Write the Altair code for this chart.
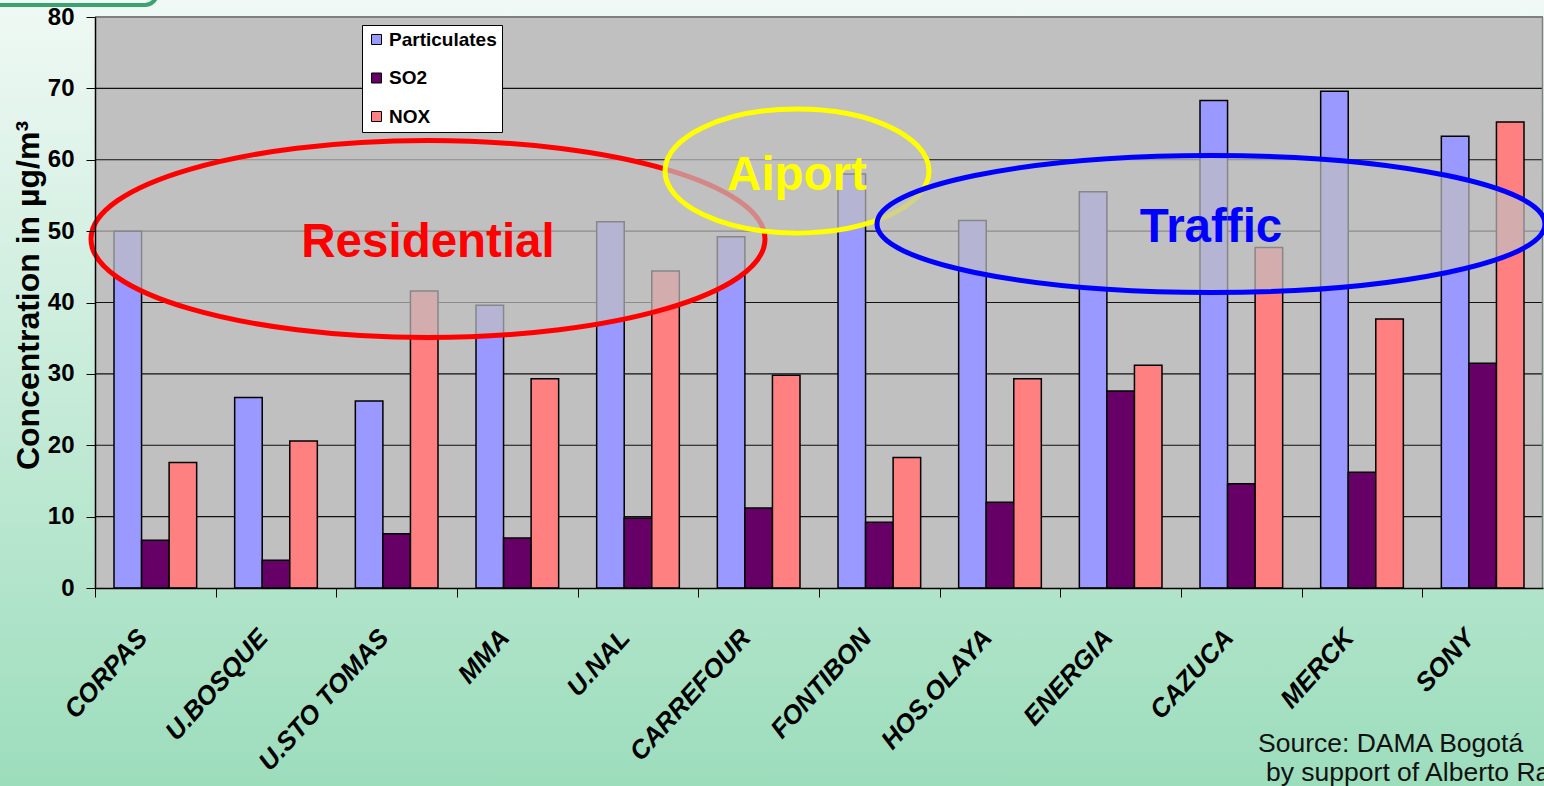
import altair as alt
import pandas as pd

# Monitoring stations and yearly mean concentrations (µg/m³)
stations = ["CORPAS", "U.BOSQUE", "U.STO TOMAS", "MMA", "U.NAL", "CARREFOUR",
            "FONTIBON", "HOS.OLAYA", "ENERGIA", "CAZUCA", "MERCK", "SONY"]
particulates = [50.0, 26.7, 26.2, 39.6, 51.3, 49.2, 58.0, 51.5, 55.5, 68.3, 69.6, 63.3]
so2 = [6.7, 3.9, 7.6, 7.0, 9.8, 11.2, 9.2, 12.0, 27.6, 14.6, 16.2, 31.5]
nox = [17.6, 20.6, 41.6, 29.3, 44.4, 29.8, 18.3, 29.3, 31.2, 47.7, 37.7, 65.3]

pollutants = ["Particulates", "SO2", "NOX"]
pollutant_colors = ["#9999FF", "#660066", "#FF8080"]

y_ticks = [0, 10, 20, 30, 40, 50, 60, 70, 80]
grid_values = [10, 20, 30, 40, 50, 60, 70]
y_title = "Concentration in µg/m³"
source_lines = ["Source: DAMA Bogotá", "by support of Alberto Ra"]

# Zone labels drawn as outlined ellipses over the plot
zone_labels = ["Residential", "Aiport", "Traffic"]
zone_colors = ["#FF0000", "#FFFF00", "#0000FF"]

rows = []
for i, st in enumerate(stations):
    for p, vals in zip(pollutants, [particulates, so2, nox]):
        rows.append({"station": st, "pollutant": p, "value": vals[i]})
df = pd.DataFrame(rows)

W, H = 1448, 571
PAD_L, PAD_T, PAD_R, PAD_B = 95, 17, 1, 198
STEP = W / len(stations)
FONT = "Liberation Sans, Arial, Helvetica, sans-serif"
one = pd.DataFrame({"k": [0]})

y_scale = alt.Scale(domain=[0, 80], nice=False, zero=True)


def ellipse_path(ratio):
    """Unit ellipse (x in [-1, 1]) built from four cubic segments."""
    k = 0.5523
    b = ratio
    return (f"M -1 0 C -1 {-k*b:.4f} {-k:.4f} {-b:.4f} 0 {-b:.4f} "
            f"C {k:.4f} {-b:.4f} 1 {-k*b:.4f} 1 0 "
            f"C 1 {k*b:.4f} {k:.4f} {b:.4f} 0 {b:.4f} "
            f"C {-k:.4f} {b:.4f} -1 {k*b:.4f} -1 0 Z")


# page background: soft green vertical gradient
background = alt.Chart(one).mark_rect(
    color=alt.Gradient(
        gradient="linear",
        stops=[alt.GradientStop(color="#F0F9F5", offset=0),
               alt.GradientStop(color="#9CDDBC", offset=1)],
        x1=0, x2=0, y1=0, y2=1,
    )
).encode(
    x=alt.value(-PAD_L), x2=alt.value(W + PAD_R),
    y=alt.value(-PAD_T), y2=alt.value(H + PAD_B),
)

# lower edge of the rounded title frame in the top-left corner
title_frame = alt.Chart(one).mark_rect(
    fillOpacity=0, stroke="#3BA272", strokeWidth=4, cornerRadius=12
).encode(
    x=alt.value(-PAD_L - 30), x2=alt.value(62),
    y=alt.value(-PAD_T - 40), y2=alt.value(-12),
)

plot_bg = alt.Chart(one).mark_rect(color="#C0C0C0").encode(
    x=alt.value(0), x2=alt.value(W), y=alt.value(0), y2=alt.value(H)
)

grid = alt.Chart(pd.DataFrame({"value": grid_values})).mark_rule(
    color="#111111", strokeWidth=1.2
).encode(y=alt.Y("value:Q", scale=y_scale, title=y_title))

top_border = alt.Chart(one).mark_rule(color="#808080", strokeWidth=2).encode(
    x=alt.value(0), x2=alt.value(W), y=alt.value(0)
)
right_border = alt.Chart(one).mark_rule(color="#808080", strokeWidth=1.5).encode(
    x=alt.value(W - 0.5), y=alt.value(0), y2=alt.value(H)
)

bars = alt.Chart(df).mark_bar(stroke="black", strokeWidth=1.5).encode(
    x=alt.X(
        "station:N", sort=stations, title=None,
        scale=alt.Scale(paddingInner=0.315, paddingOuter=0.1575),
        axis=alt.Axis(
            labelAngle=-48, labelAlign="right", labelBaseline="middle",
            labelFont=FONT, labelFontSize=26, labelFontWeight="bold",
            labelFontStyle="italic", labelColor="black", labelPadding=36,
            tickOffset=-STEP / 2, labelOffset=STEP / 2 - 13,
            tickSize=9, tickColor="black", tickWidth=1,
            domainColor="black", domainWidth=1.5, grid=False, zindex=1,
            labelOverlap=False,
        ),
    ),
    xOffset=alt.XOffset("pollutant:N", sort=pollutants,
                        scale=alt.Scale(paddingInner=0, paddingOuter=0)),
    y=alt.Y(
        "value:Q", scale=y_scale, title=y_title,
        axis=alt.Axis(
            values=y_ticks, grid=False, labelFont=FONT, labelFontSize=24,
            labelFontWeight="bold", labelColor="black", labelPadding=12,
            tickSize=9, tickColor="black", domainColor="black", domainWidth=1.5,
            titleFont=FONT, titleFontSize=32, titleFontWeight="bold",
            titleColor="black", titleAngle=270, titleAlign="center",
            titleBaseline="alphabetic", titleX=-57, titleY=278, zindex=1,
        ),
    ),
    color=alt.Color(
        "pollutant:N", sort=pollutants,
        scale=alt.Scale(domain=pollutants, range=pollutant_colors),
        legend=alt.Legend(
            title=None, orient="none", legendX=267, legendY=8,
            fillColor="white", strokeColor="black", padding=5,
            symbolType="square", symbolSize=100, symbolStrokeColor="black",
            symbolStrokeWidth=1, labelFont=FONT, labelFontSize=19,
            labelFontWeight="bold", labelColor="black", labelOffset=3,
            rowPadding=18.5,
        ),
    ),
)

# ellipse outlines (centre x, centre y, radius x, radius y in pixels) and label baselines
zone_geometry = [
    (428 - PAD_L, 239 - PAD_T, 337, 98.5, 257 - PAD_T),
    (797 - PAD_L, 171 - PAD_T, 132, 62, 190 - PAD_T),
    (1211 - PAD_L, 224 - PAD_T, 334, 68.5, 242 - PAD_T),
]

zone_layers = []
for label, color, (cx, cy, rx, ry, ty) in zip(zone_labels, zone_colors, zone_geometry):
    ell = alt.Chart(one).mark_point(
        shape=ellipse_path(ry / rx), size=(2 * rx) ** 2, filled=True,
        fill="#C0C0C0", fillOpacity=0.7, stroke=color, strokeWidth=5,
        strokeOpacity=1, opacity=1,
    ).encode(x=alt.value(cx), y=alt.value(cy))
    txt = alt.Chart(one).mark_text(
        text=label, font=FONT, fontSize=47.5, fontWeight="bold", color=color,
        align="center", baseline="alphabetic",
    ).encode(x=alt.value(cx), y=alt.value(ty))
    zone_layers += [ell, txt]

source1 = alt.Chart(one).mark_text(
    text=source_lines[0], font=FONT, fontSize=26.5, color="#111111",
    align="left", baseline="alphabetic",
).encode(x=alt.value(1258 - PAD_L), y=alt.value(752 - PAD_T))
source2 = alt.Chart(one).mark_text(
    text=source_lines[1], font=FONT, fontSize=26.5, color="#111111",
    align="left", baseline="alphabetic",
).encode(x=alt.value(1266 - PAD_L), y=alt.value(781 - PAD_T))

chart = alt.layer(
    background, title_frame, plot_bg, grid, top_border, right_border, bars,
    *zone_layers, source1, source2,
).properties(
    width=W, height=H,
    padding={"left": PAD_L, "top": PAD_T, "right": PAD_R, "bottom": PAD_B},
    autosize=alt.AutoSizeParams(type="none"),
).configure(
    background="#C8EBDA",
).configure_view(strokeWidth=0)

chart.save("out.html", embed_options={"renderer": "svg", "actions": False})
